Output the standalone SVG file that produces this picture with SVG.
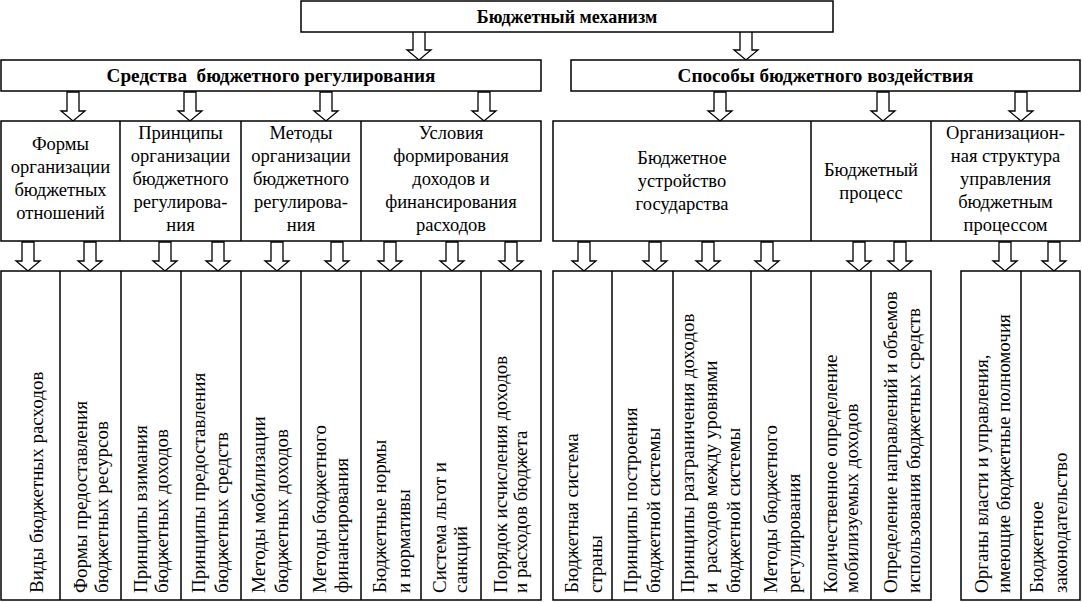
<svg xmlns="http://www.w3.org/2000/svg" width="1082" height="602" viewBox="0 0 1082 602">
<style>
.box{fill:#fff;stroke:#000;stroke-width:1.5}
.sep{stroke:#000;stroke-width:1.5;fill:none}
.b{font-family:"Liberation Serif","Times New Roman",serif;font-weight:bold;font-size:18px;fill:#000;text-anchor:middle}
.b2{font-family:"Liberation Serif","Times New Roman",serif;font-weight:bold;font-size:19.2px;fill:#000;text-anchor:middle}
.t{font-family:"Liberation Serif","Times New Roman",serif;font-size:18.5px;fill:#000;text-anchor:middle}
.v{font-family:"Liberation Serif","Times New Roman",serif;font-size:19px;fill:#000;text-anchor:start}
.arr{fill:#fff;stroke:#000;stroke-width:1.3;stroke-linejoin:miter}
</style>
<defs>
<path id="arr" class="arr" d="M-6,-29 V-10 H-12 L0,0 L12,-10 H6 V-29 Z"/>
</defs>

<g id="connectors">
<use href="#arr" x="419" y="60"/>
<use href="#arr" x="746" y="60"/>
<use href="#arr" x="73" y="121"/>
<use href="#arr" x="190" y="121"/>
<use href="#arr" x="326" y="121"/>
<use href="#arr" x="484" y="121"/>
<use href="#arr" x="720" y="121"/>
<use href="#arr" x="883" y="121"/>
<use href="#arr" x="1021" y="121"/>
<use href="#arr" x="28" y="271"/>
<use href="#arr" x="90" y="271"/>
<use href="#arr" x="165" y="271"/>
<use href="#arr" x="218" y="271"/>
<use href="#arr" x="277" y="271"/>
<use href="#arr" x="337" y="271"/>
<use href="#arr" x="390" y="271"/>
<use href="#arr" x="452" y="271"/>
<use href="#arr" x="511" y="271"/>
<use href="#arr" x="584" y="271"/>
<use href="#arr" x="655" y="271"/>
<use href="#arr" x="708" y="271"/>
<use href="#arr" x="767" y="271"/>
<use href="#arr" x="859" y="271"/>
<use href="#arr" x="900" y="271"/>
<use href="#arr" x="1005" y="271"/>
<use href="#arr" x="1054" y="271"/>
</g>

<g id="n-mechanism">
<rect class="box" x="301" y="1" width="532" height="31"/>
<text class="b" x="567" y="23">Бюджетный механизм</text>
</g>

<g id="n-sredstva">
<rect class="box" x="1" y="60" width="540" height="31"/>
<text class="b2" x="271" y="82" xml:space="preserve">Средства  бюджетного регулирования</text>
</g>

<g id="n-sposoby">
<rect class="box" x="571" y="60" width="509" height="31"/>
<text class="b2" x="825.5" y="82">Способы бюджетного воздействия</text>
</g>

<g id="row3-left">
<rect class="box" x="1" y="121" width="540" height="120"/>
<line class="sep" x1="120" y1="121" x2="120" y2="241"/>
<line class="sep" x1="241" y1="121" x2="241" y2="241"/>
<line class="sep" x1="361" y1="121" x2="361" y2="241"/>
</g>
<g id="n-formy">
<text class="t" x="60.5" y="150">Формы</text>
<text class="t" x="60.5" y="173">организации</text>
<text class="t" x="60.5" y="196">бюджетных</text>
<text class="t" x="60.5" y="219">отношений</text>
</g>
<g id="n-principy">
<text class="t" x="180.5" y="139">Принципы</text>
<text class="t" x="180.5" y="162">организации</text>
<text class="t" x="180.5" y="185">бюджетного</text>
<text class="t" x="180.5" y="208">регулирова-</text>
<text class="t" x="180.5" y="231">ния</text>
</g>
<g id="n-metody">
<text class="t" x="301" y="139">Методы</text>
<text class="t" x="301" y="162">организации</text>
<text class="t" x="301" y="185">бюджетного</text>
<text class="t" x="301" y="208">регулирова-</text>
<text class="t" x="301" y="231">ния</text>
</g>
<g id="n-usloviya">
<text class="t" x="451" y="139">Условия</text>
<text class="t" x="451" y="162">формирования</text>
<text class="t" x="451" y="185">доходов и</text>
<text class="t" x="451" y="208">финансирования</text>
<text class="t" x="451" y="231">расходов</text>
</g>

<g id="row3-right">
<rect class="box" x="553" y="121" width="527" height="120"/>
<line class="sep" x1="811" y1="121" x2="811" y2="241"/>
<line class="sep" x1="931" y1="121" x2="931" y2="241"/>
</g>
<g id="n-ustroistvo">
<text class="t" x="682" y="164">Бюджетное</text>
<text class="t" x="682" y="187">устройство</text>
<text class="t" x="682" y="210">государства</text>
</g>
<g id="n-process">
<text class="t" x="871" y="176">Бюджетный</text>
<text class="t" x="871" y="199">процесс</text>
</g>
<g id="n-orgstruktura">
<text class="t" x="1005.5" y="139">Организацион-</text>
<text class="t" x="1005.5" y="162">ная структура</text>
<text class="t" x="1005.5" y="185">управления</text>
<text class="t" x="1005.5" y="208">бюджетным</text>
<text class="t" x="1005.5" y="231">процессом</text>
</g>

<g id="row4-left">
<rect class="box" x="1" y="271" width="540" height="329"/>
<line class="sep" x1="60" y1="271" x2="60" y2="600"/>
<line class="sep" x1="121" y1="271" x2="121" y2="600"/>
<line class="sep" x1="181" y1="271" x2="181" y2="600"/>
<line class="sep" x1="241" y1="271" x2="241" y2="600"/>
<line class="sep" x1="301" y1="271" x2="301" y2="600"/>
<line class="sep" x1="361" y1="271" x2="361" y2="600"/>
<line class="sep" x1="421" y1="271" x2="421" y2="600"/>
<line class="sep" x1="481" y1="271" x2="481" y2="600"/>
</g>
<g id="n-vidy"><text class="v" transform="translate(43,593) rotate(-90)">Виды бюджетных расходов</text></g>
<g id="n-formy-pred">
<text class="v" transform="translate(87,593) rotate(-90)">Формы предоставления</text>
<text class="v" transform="translate(108,593) rotate(-90)">бюджетных ресурсов</text>
</g>
<g id="n-princ-vzim">
<text class="v" transform="translate(147,593) rotate(-90)">Принципы взимания</text>
<text class="v" transform="translate(168,593) rotate(-90)">бюджетных доходов</text>
</g>
<g id="n-princ-pred">
<text class="v" transform="translate(205,593) rotate(-90)">Принципы предоставления</text>
<text class="v" transform="translate(228,593) rotate(-90)">бюджетных средств</text>
</g>
<g id="n-met-mob">
<text class="v" transform="translate(265,593) rotate(-90)">Методы мобилизации</text>
<text class="v" transform="translate(288,593) rotate(-90)">бюджетных доходов</text>
</g>
<g id="n-met-fin">
<text class="v" transform="translate(326,593) rotate(-90)">Методы бюджетного</text>
<text class="v" transform="translate(348,593) rotate(-90)">финансирования</text>
</g>
<g id="n-normy">
<text class="v" transform="translate(386,593) rotate(-90)">Бюджетные нормы</text>
<text class="v" transform="translate(410,593) rotate(-90)">и нормативы</text>
</g>
<g id="n-lgoty">
<text class="v" transform="translate(446,593) rotate(-90)">Система льгот и</text>
<text class="v" transform="translate(467,593) rotate(-90)">санкций</text>
</g>
<g id="n-poryadok">
<text class="v" transform="translate(507,593) rotate(-90)">Порядок исчисления доходов</text>
<text class="v" transform="translate(527,593) rotate(-90)">и расходов бюджета</text>
</g>

<g id="row4-mid">
<rect class="box" x="553" y="271" width="378" height="329"/>
<line class="sep" x1="612" y1="271" x2="612" y2="600"/>
<line class="sep" x1="673" y1="271" x2="673" y2="600"/>
<line class="sep" x1="751" y1="271" x2="751" y2="600"/>
<line class="sep" x1="811" y1="271" x2="811" y2="600"/>
<line class="sep" x1="871" y1="271" x2="871" y2="600"/>
</g>
<g id="n-bsys">
<text class="v" transform="translate(578,593) rotate(-90)">Бюджетная система</text>
<text class="v" transform="translate(602,593) rotate(-90)">страны</text>
</g>
<g id="n-princ-postr">
<text class="v" transform="translate(637,593) rotate(-90)">Принципы построения</text>
<text class="v" transform="translate(660,593) rotate(-90)">бюджетной системы</text>
</g>
<g id="n-razgr">
<text class="v" transform="translate(694,593) rotate(-90)">Принципы разграничения доходов</text>
<text class="v" transform="translate(717,593) rotate(-90)" xml:space="preserve">и  расходов между уровнями</text>
<text class="v" transform="translate(740,593) rotate(-90)">бюджетной системы</text>
</g>
<g id="n-met-reg">
<text class="v" transform="translate(777,593) rotate(-90)">Методы бюджетного</text>
<text class="v" transform="translate(800,593) rotate(-90)">регулирования</text>
</g>
<g id="n-kolich">
<text class="v" transform="translate(837,593) rotate(-90)">Количественное определение</text>
<text class="v" transform="translate(858,593) rotate(-90)">мобилизуемых доходов</text>
</g>
<g id="n-opred">
<text class="v" transform="translate(897,593) rotate(-90)">Определение направлений и объемов</text>
<text class="v" transform="translate(920,593) rotate(-90)">использования бюджетных средств</text>
</g>

<g id="row4-right">
<rect class="box" x="961" y="271" width="119" height="329"/>
<line class="sep" x1="1021" y1="271" x2="1021" y2="600"/>
</g>
<g id="n-organy">
<text class="v" transform="translate(988,593) rotate(-90)">Органы власти и управления,</text>
<text class="v" transform="translate(1010,593) rotate(-90)">имеющие бюджетные полномочия</text>
</g>
<g id="n-zakon">
<text class="v" transform="translate(1043,593) rotate(-90)">Бюджетное</text>
<text class="v" transform="translate(1067,593) rotate(-90)">законодательство</text>
</g>
</svg>
